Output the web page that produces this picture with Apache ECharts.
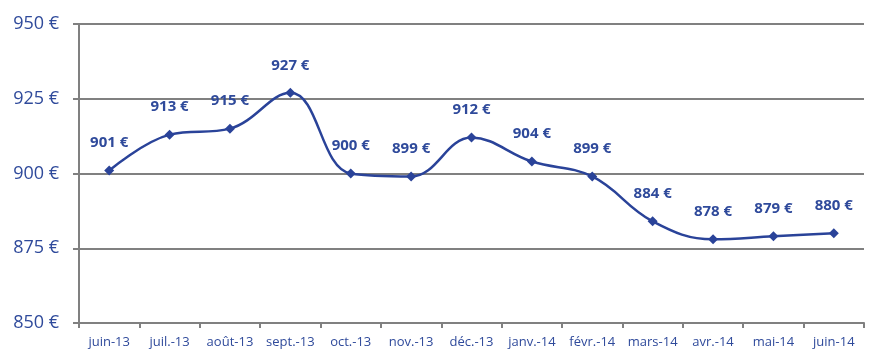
<!DOCTYPE html>
<html><head><meta charset="utf-8">
<script src="https://cdn.jsdelivr.net/npm/echarts@6/dist/echarts.min.js"></script>
<style>html,body{margin:0;padding:0;background:#fff}#c{width:886px;height:362px}</style>
</head><body><div id="c"></div>
<script>
const categories = ['juin-13','juil.-13','août-13','sept.-13','oct.-13','nov.-13','déc.-13','janv.-14','févr.-14','mars-14','avr.-14','mai-14','juin-14'];
const prices = [901, 913, 915, 927, 900, 899, 912, 904, 899, 884, 878, 879, 880];
const yMin = 850, yMax = 950, yStep = 25;

const chart = echarts.init(document.getElementById('c'), null, {renderer:'canvas'});
const txt = '#2F4A9B';
chart.setOption({
  animation:false,
  grid:{left:79, right:22, top:24, bottom:39},
  xAxis:{
    type:'category', data:categories, boundaryGap:true,
    axisLine:{lineStyle:{color:'#808080', width:2}},
    axisTick:{show:true, length:5, lineStyle:{color:'#808080', width:2}},
    axisLabel:{color:txt, fontFamily:'Open Sans, Noto Sans, sans-serif', fontSize:13, margin:13, interval:0}
  },
  yAxis:{
    type:'value', min:yMin, max:yMax, interval:yStep,
    axisLine:{show:true, lineStyle:{color:'#808080', width:2}},
    axisTick:{show:true, length:6, lineStyle:{color:'#808080', width:2}},
    splitLine:{lineStyle:{color:'#808080', width:2}},
    axisLabel:{color:txt, fontFamily:'Open Sans, Noto Sans, sans-serif', fontSize:18, margin:20, formatter: v => v + ' €'}
  },
  series:[{
    type:'line', data:prices, smooth:0.4,
    symbol:'diamond', symbolSize:10,
    lineStyle:{color:'#2A4399', width:2.5},
    itemStyle:{color:'#2A4399'},
    label:{show:true, position:'top', distance:15, color:txt, fontWeight:'bold', fontSize:15,
      fontFamily:'Open Sans, Noto Sans, sans-serif', formatter: p => p.value + ' €'}
  }]
});
</script></body></html>
